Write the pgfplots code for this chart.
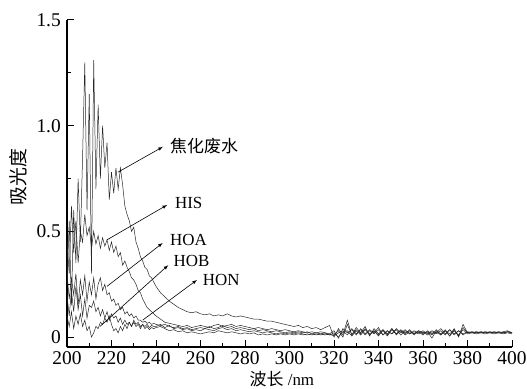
\documentclass[border=0pt]{standalone}
\usepackage{fontspec}
\setmainfont{Liberation Serif}
\newfontfamily\cjk{Noto Sans CJK SC}
\usepackage{pgfplots}
\usepackage{pgfplotstable}
\pgfplotsset{compat=1.18}
\pgfplotstableread{
x C HIS HOA HOB HON
200 0.25 0.45 0.30 0.20 0.10
201 0.55 0.30 0.18 0.10 0.05
202 0.15 0.62 0.28 0.22 0.12
203 0.60 0.40 0.20 0.12 0.04
204 0.35 0.55 0.30 0.24 0.10
205 0.75 0.35 0.15 0.13 0.06
206 0.45 0.50 0.27 0.20 0.11
207 0.85 0.45 0.20 0.10 0.05
208 1.30 0.58 0.29 0.18 0.08
209 0.60 0.48 0.17 0.09 0.03
210 1.15 0.52 0.26 0.15 0.05
211 0.30 0.42 0.20 0.14 0.00
212 1.31 0.50 0.28 0.17 0.02
213 0.70 0.44 0.18 0.12 0.05
214 1.10 0.48 0.25 0.14 0.04
215 0.75 0.42 0.28 0.10 0.07
216 1.00 0.47 0.22 0.13 0.06
217 0.80 0.43 0.25 0.09 0.09
218 0.92 0.46 0.20 0.12 0.07
219 0.65 0.41 0.21 0.08 0.10
220 0.78 0.45 0.17 0.11 0.06
221 0.68 0.40 0.18 0.09 0.03
222 0.80 0.43 0.15 0.10 0.04
223 0.70 0.38 0.16 0.07 0.02
224 0.80 0.40 0.13 0.09 0.05
225 0.72 0.34 0.14 0.06 0.03
226 0.62 0.36 0.11 0.08 0.06
227 0.58 0.33 0.12 0.06 0.04
228 0.55 0.31 0.10 0.07 0.07
229 0.50 0.28 0.11 0.05 0.05
230 0.52 0.27 0.09 0.07 0.08
231 0.45 0.25 0.10 0.05 0.06
232 0.42 0.22 0.08 0.06 0.07
233 0.38 0.21 0.08 0.04 0.05
234 0.36 0.18 0.07 0.06 0.06
235 0.33 0.16 0.075 0.05 0.04
236 0.32 0.14 0.065 0.06 0.05
237 0.29 0.13 0.07 0.045 0.035
238 0.28 0.12 0.06 0.055 0.045
239 0.26 0.11 0.065 0.05 0.04
240 0.24 0.10 0.06 0.05 0.045
242 0.21 0.085 0.055 0.060 0.050
244 0.19 0.070 0.060 0.045 0.040
246 0.17 0.065 0.050 0.055 0.030
248 0.155 0.060 0.045 0.040 0.035
250 0.14 0.055 0.050 0.045 0.025
252 0.13 0.050 0.040 0.035 0.030
254 0.12 0.055 0.045 0.040 0.020
256 0.115 0.045 0.035 0.030 0.025
258 0.12 0.050 0.040 0.035 0.020
260 0.11 0.055 0.045 0.030 0.015
262 0.105 0.050 0.040 0.040 0.020
264 0.11 0.045 0.050 0.035 0.025
266 0.10 0.055 0.040 0.030 0.020
268 0.105 0.060 0.045 0.040 0.030
270 0.10 0.050 0.055 0.045 0.025
272 0.11 0.055 0.045 0.035 0.020
274 0.10 0.060 0.050 0.040 0.025
276 0.095 0.050 0.040 0.030 0.020
278 0.10 0.055 0.045 0.035 0.015
280 0.095 0.050 0.040 0.030 0.020
282 0.09 0.045 0.035 0.025 0.015
284 0.085 0.040 0.040 0.030 0.020
286 0.085 0.045 0.030 0.025 0.010
288 0.08 0.040 0.035 0.020 0.015
290 0.075 0.035 0.030 0.025 0.010
292 0.075 0.040 0.025 0.020 0.015
294 0.07 0.035 0.030 0.015 0.010
296 0.065 0.030 0.025 0.020 0.015
298 0.06 0.035 0.020 0.015 0.010
300 0.055 0.030 0.025 0.020 0.015
302 0.05 0.025 0.020 0.015 0.010
304 0.055 0.030 0.025 0.020 0.015
306 0.045 0.025 0.020 0.015 0.010
308 0.05 0.020 0.025 0.010 0.015
310 0.04 0.025 0.015 0.015 0.010
312 0.045 0.020 0.020 0.010 0.015
314 0.035 0.025 0.015 0.015 0.010
316 0.045 0.020 0.020 0.010 0.015
318 0.055 0.015 0.010 0.015 0.010
320 0.00 0.030 0.010 0.005 0.020
322 0.04 -0.005 0.030 0.020 0.000
324 0.01 0.040 0.000 0.030 0.025
326 0.08 0.020 0.060 0.010 0.030
328 0.01 0.035 0.010 0.040 0.005
330 0.045 0.010 0.035 0.015 0.030
332 0.02 0.040 0.015 0.035 0.010
334 0.05 0.015 0.040 0.010 0.035
336 0.005 0.035 0.010 0.030 0.015
338 0.04 0.020 0.030 0.015 0.030
340 0.015 0.045 0.005 0.035 0.010
342 0.035 0.010 0.035 0.010 0.030
344 0.01 0.030 0.015 0.030 0.005
346 0.04 0.015 0.040 0.015 0.035
348 0.015 0.040 0.010 0.035 0.015
350 0.035 0.020 0.030 0.010 0.030
352 0.02 0.035 0.015 0.030 0.010
354 0.03 0.015 0.035 0.015 0.025
356 0.015 0.030 0.010 0.025 0.015
358 0.03 0.020 0.030 0.015 0.025
360 0.02 0.030 0.015 0.025 0.010
362 0.025 0.015 0.025 0.010 0.030
364 -0.005 0.030 0.010 0.025 0.015
366 0.03 0.020 0.035 0.015 0.025
368 0.015 0.040 0.010 0.030 0.010
370 0.035 0.015 0.030 0.010 0.030
372 0.005 0.035 0.015 0.035 0.005
374 0.04 0.010 0.035 0.015 0.030
376 0.00 0.030 0.005 0.030 0.010
378 0.06 0.015 0.045 0.010 0.035
380 0.02 0.025 0.020 0.025 0.015
382 0.025 0.020 0.025 0.020 0.020
384 0.02 0.025 0.020 0.025 0.015
386 0.025 0.020 0.025 0.020 0.020
388 0.02 0.025 0.020 0.025 0.015
390 0.025 0.020 0.025 0.020 0.020
392 0.02 0.025 0.020 0.025 0.015
394 0.025 0.020 0.025 0.020 0.020
396 0.02 0.025 0.020 0.020 0.015
398 0.025 0.030 0.025 0.025 0.020
400 0.02 0.020 0.020 0.020 0.015
}\spectra
\begin{document}
\begin{tikzpicture}
\fontsize{17}{20}\selectfont
\begin{axis}[
  at={(0,0)}, anchor=south west,
  scale only axis, width=445bp, height=327bp,
  xmin=200, xmax=400, ymin=-0.047, ymax=1.5,
  axis x line=bottom, axis y line=left,
  axis line style={-, line width=1.2pt},
  tick align=inside,
  xtick={200,220,...,400},
  minor xtick={210,230,...,390},
  ytick={0,0.5,1.0,1.5},
  yticklabels={0,0.5,1.0,1.5},
  minor ytick={0.25,0.75,1.25},
  major tick length=7bp, minor tick length=4bp,
  tick style={line width=1pt, black},
  /pgf/number format/assume math mode=true,
  ticklabel style={font=\fontsize{19.5}{21}\selectfont},
  xticklabel style={inner sep=0pt, yshift=-4bp},
  yticklabel style={inner sep=0pt, xshift=-6bp},
  xlabel={{\cjk 波长} /nm},
  ylabel={\cjk 吸光度},
  xlabel style={at={(axis description cs:0.483,-0.0734)}, anchor=north, inner sep=0pt, font=\fontsize{17}{19}\selectfont},
  ylabel style={at={(axis description cs:-0.11,0.52)}, anchor=center, font=\fontsize{19}{21}\selectfont},
  clip=false,
]
\addplot[black!85, line width=0.5pt] table[x=x, y=C] {\spectra};
\addplot[black!85, line width=0.5pt] table[x=x, y=HIS] {\spectra};
\addplot[black!85, line width=0.5pt] table[x=x, y=HOA] {\spectra};
\addplot[black!85, line width=0.5pt] table[x=x, y=HOB] {\spectra};
\addplot[black!85, line width=0.5pt] table[x=x, y=HON] {\spectra};
\draw[-latex, line width=0.6pt] (axis cs:222.9,0.78) -- (axis cs:243.1,0.90);
\node[anchor=west, inner sep=0pt] at (axis cs:246.3,0.905) {\cjk 焦化废水};
\draw[-latex, line width=0.6pt] (axis cs:218,0.46) -- (axis cs:245,0.625);
\node[anchor=west, inner sep=0pt] at (axis cs:248.5,0.635) {HIS};
\draw[-latex, line width=0.6pt] (axis cs:218,0.24) -- (axis cs:243,0.445);
\node[anchor=west, inner sep=0pt] at (axis cs:246.3,0.46) {HOA};
\draw[-latex, line width=0.6pt] (axis cs:214.8,0.05) -- (axis cs:245.5,0.34);
\node[anchor=west, inner sep=0pt] at (axis cs:247.8,0.36) {HOB};
\draw[-latex, line width=0.6pt] (axis cs:234,0.08) -- (axis cs:258.4,0.27);
\node[anchor=west, inner sep=0pt] at (axis cs:261,0.27) {HON};
\end{axis}
\pgfresetboundingbox
\path (-67bp,-42bp) rectangle (460bp,347bp);
\end{tikzpicture}
\end{document}
